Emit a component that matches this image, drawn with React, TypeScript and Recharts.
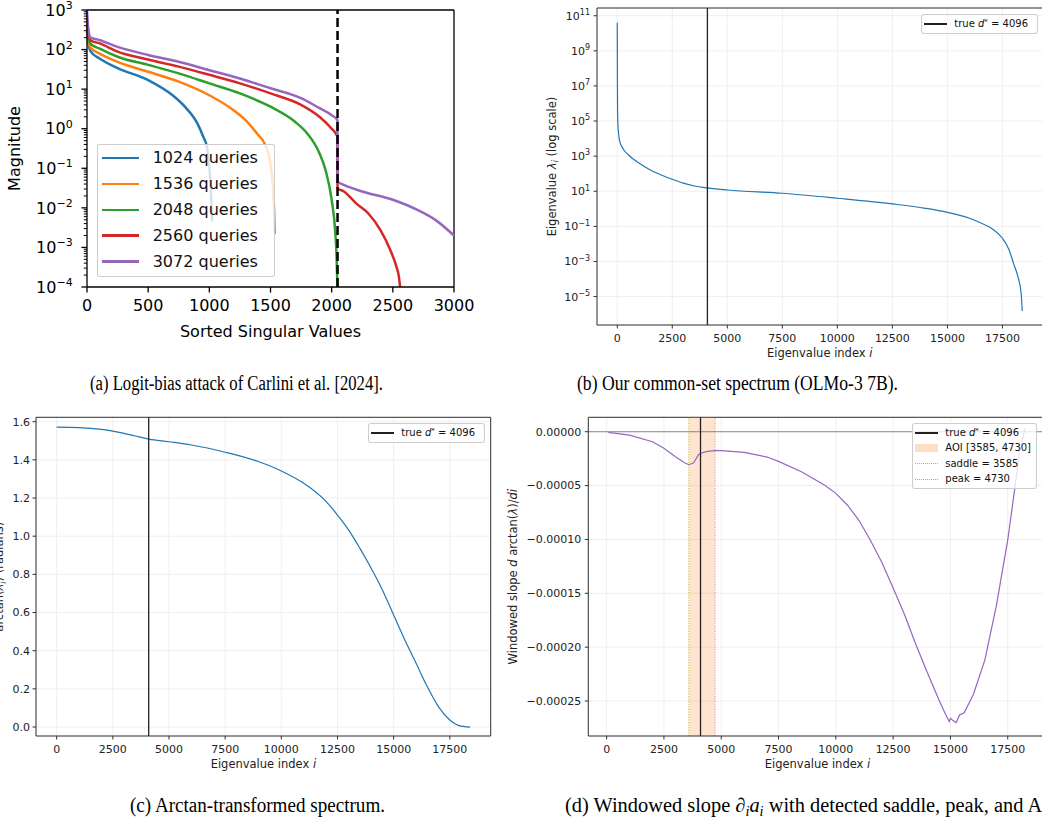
import React from "react";
import {
  CartesianGrid,
  Legend,
  Line,
  LineChart,
  ReferenceArea,
  ReferenceLine,
  XAxis,
  YAxis,
} from "recharts";

const SANS = '"DejaVu Sans", sans-serif';
const SERIF = '"Liberation Serif", "Times New Roman", serif';
const INK = "#222";
const GRID = "#ebebeb";

// ---------- (a) logit-bias attack: singular values per query budget ----------
const aXTicks = [0, 500, 1000, 1500, 2000, 2500, 3000];
const aYTicks = [1e-4, 1e-3, 1e-2, 1e-1, 1, 10, 100, 1000];
const aMinorSteps = [2, 3, 4, 5, 6, 7, 8, 9];
const aHiddenDim = 2048;

const q1024Idx = [0, 10, 30, 100, 250, 500, 700, 800, 900, 950, 980, 1000, 1010, 1018, 1023];
const q1024Val = [280, 150, 90, 60, 34, 17, 7, 3.6, 1.4, 0.63, 0.35, 0.11, 0.04, 0.012, 0.0045];

const q1536Idx = [0, 10, 30, 100, 250, 500, 750, 1000, 1200, 1300, 1400, 1450, 1500, 1520, 1530, 1535];
const q1536Val = [350, 180, 110, 80, 49, 27.5, 15.5, 7, 2.9, 1.6, 0.69, 0.43, 0.13, 0.034, 0.008, 0.0022];

const q2048Idx = [0, 10, 30, 100, 250, 500, 750, 1000, 1250, 1500, 1700, 1800, 1900, 1950, 2000, 2030, 2040, 2047];
const q2048Val = [450, 220, 140, 107, 66, 41, 25, 14, 7.8, 3.6, 1.5, 0.76, 0.24, 0.09, 0.016, 0.0023, 0.0006, 0.0001];

const q2560Idx = [0, 10, 30, 100, 250, 500, 750, 1000, 1250, 1500, 1750, 1900, 2000, 2040, 2047, 2048, 2100, 2200, 2300, 2400, 2480, 2530, 2550, 2559];
const q2560Val = [600, 280, 170, 145, 89, 56, 37, 23, 14, 7.8, 4, 2, 1.0, 0.7, 0.63, 0.031, 0.026, 0.013, 0.0072, 0.0027, 0.00085, 0.00032, 0.00018, 0.0001];

const q3072Idx = [0, 10, 30, 100, 250, 500, 750, 1000, 1250, 1500, 1750, 1900, 2000, 2047, 2048, 2100, 2250, 2500, 2700, 2850, 3000];
const q3072Val = [1000, 350, 200, 174, 117, 73, 49, 30, 18.6, 10.5, 5.9, 3.3, 2.2, 1.66, 0.046, 0.038, 0.026, 0.016, 0.0089, 0.0049, 0.002];

const aSeries = [
  { name: "1024 queries", color: "#1f77b4", idx: q1024Idx, val: q1024Val },
  { name: "1536 queries", color: "#ff7f0e", idx: q1536Idx, val: q1536Val },
  { name: "2048 queries", color: "#2ca02c", idx: q2048Idx, val: q2048Val },
  { name: "2560 queries", color: "#d62728", idx: q2560Idx, val: q2560Val },
  { name: "3072 queries", color: "#9467bd", idx: q3072Idx, val: q3072Val },
];

// ---------- (b)-(d) common-set spectrum ----------
const idxTicks = [0, 2500, 5000, 7500, 10000, 12500, 15000, 17500];
const idxDomain = [-920, 19320];
const trueDim = 4096;

const bYTicks = [1e-5, 1e-3, 1e-1, 10, 1e3, 1e5, 1e7, 1e9, 1e11];
const eigIdx = [0, 3, 8, 15, 30, 60, 100, 250, 500, 1000, 1500, 2000, 2500, 3000, 3500, 4096, 5000, 7500, 10000, 12500, 14000, 15000, 16000, 16500, 17000, 17500, 17800, 18000, 18200, 18350, 18400];
const eigVal = [4e10, 1e9, 1e7, 3e5, 6e4, 2e4, 8.3e3, 2.8e3, 1.2e3, 390, 163, 85, 48, 29, 20, 15.5, 11.8, 7.7, 4, 1.9, 1.07, 0.63, 0.29, 0.16, 0.078, 0.021, 0.0046, 0.0008, 1.4e-4, 1.55e-5, 1.5e-6];

const cYTicks = [0, 0.2, 0.4, 0.6, 0.8, 1.0, 1.2, 1.4, 1.6];
const atanIdx = [0, 1000, 2000, 2500, 3000, 3500, 4096, 5000, 6000, 7500, 9000, 10000, 11000, 12000, 12500, 13000, 13500, 14000, 14500, 15000, 15500, 16000, 16500, 17000, 17500, 18000, 18400];
const atanVal = [1.571, 1.569, 1.56, 1.551, 1.539, 1.525, 1.509, 1.495, 1.478, 1.44, 1.39, 1.342, 1.277, 1.181, 1.111, 1.032, 0.936, 0.832, 0.718, 0.587, 0.456, 0.334, 0.211, 0.106, 0.037, 0.005, 0.0];

const dYTicks = [-0.00025, -0.0002, -0.00015, -0.0001, -0.00005, 0];
const aoiLow = 3585;
const aoiHigh = 4730;
const slopeIdx = [70, 1000, 2000, 2500, 3000, 3400, 3585, 3800, 4000, 4096, 4400, 4730, 5000, 6000, 7000, 7500, 8500, 9500, 10000, 10500, 11000, 11500, 12000, 12500, 13000, 13500, 14000, 14500, 14800, 14950, 15000, 15100, 15250, 15400, 15600, 16000, 16500, 17000, 17500, 17800, 18000, 18250];
const slopeVal = [-6e-7, -3.1e-6, -9.3e-6, -1.54e-5, -2.32e-5, -2.88e-5, -3.06e-5, -2.88e-5, -2.16e-5, -2.0e-5, -1.82e-5, -1.76e-5, -1.76e-5, -1.91e-5, -2.35e-5, -2.75e-5, -3.71e-5, -4.95e-5, -5.72e-5, -6.8e-5, -8.2e-5, -1.005e-4, -1.21e-4, -1.45e-4, -1.7e-4, -1.98e-4, -2.24e-4, -2.49e-4, -2.63e-4, -2.69e-4, -2.66e-4, -2.68e-4, -2.7e-4, -2.63e-4, -2.61e-4, -2.44e-4, -2.12e-4, -1.62e-4, -1.005e-4, -5.4e-5, -2.0e-5, 3e-6];

const pts = (xs: number[], ys: number[]) => xs.map((x, i) => ({ x, y: ys[i] }));

// ---------- shared pieces ----------
function PowTick(props: any) {
  const { x, y, payload, fs, sup, color, axisX, majorLen, minorLen } = props;
  const e = Math.log10(payload.value);
  const ex = Math.round(e);
  const major = Math.abs(e - ex) < 1e-6;
  return (
    <g>
      {axisX != null && (
        <line
          x1={axisX - (major ? majorLen : minorLen)}
          x2={axisX}
          y1={y}
          y2={y}
          stroke={color}
          strokeWidth={major ? 1.3 : 1}
        />
      )}
      {major && (
        <text x={x} y={y + fs * 0.36} textAnchor="end" fontSize={fs} fill={color} fontFamily={SANS}>
          10
          <tspan fontSize={sup} dy={-fs * 0.42}>
            {ex < 0 ? `\u2212${-ex}` : `${ex}`}
          </tspan>
        </text>
      )}
    </g>
  );
}

type Entry = { label: React.ReactNode; color: string; kind: "line" | "dot" | "patch"; lw?: number; alpha?: number };

function LegendBox(p: {
  entries: Entry[];
  w: number;
  h: number;
  rowTop: number;
  rowGap: number;
  sx: number;
  sw: number;
  tx: number;
  fs: number;
}) {
  return (
    <div
      style={{
        position: "relative",
        width: p.w,
        height: p.h,
        boxSizing: "border-box",
        border: "1px solid rgba(200,200,200,0.9)",
        borderRadius: 3,
        background: "rgba(255,255,255,0.8)",
        fontFamily: SANS,
        fontSize: p.fs,
        color: "#111",
      }}
    >
      {p.entries.map((e, k) => {
        const cy = p.rowTop + k * p.rowGap;
        const lw = e.lw ?? 1.5;
        let sample: React.CSSProperties;
        if (e.kind === "line") {
          sample = { top: cy - lw / 2, height: lw, background: e.color };
        } else if (e.kind === "dot") {
          sample = { top: cy - lw / 2, height: 0, borderTop: `${lw}px dotted ${e.color}` };
        } else {
          sample = { top: cy - 4, height: 8, background: e.color };
        }
        return (
          <React.Fragment key={k}>
            <div style={{ position: "absolute", left: p.sx, width: p.sw, opacity: e.alpha ?? 1, ...sample }} />
            <div
              style={{
                position: "absolute",
                left: p.tx,
                top: cy,
                transform: "translateY(-50%)",
                whiteSpace: "nowrap",
                lineHeight: 1,
              }}
            >
              {e.label}
            </div>
          </React.Fragment>
        );
      })}
    </div>
  );
}

const trueLabel = (
  <>
    true <i>d</i>
    <span style={{ fontSize: "0.7em", verticalAlign: "0.5em" }}>*</span> = 4096
  </>
);

// top and right spines: a grid whose only lines sit on the plot area's top and right edges
function spines(color: string, w: number) {
  return (
    <CartesianGrid
      stroke={color}
      strokeWidth={w}
      fill="none"
      horizontalCoordinatesGenerator={(p: any) => [p.offset.top]}
      verticalCoordinatesGenerator={(p: any) => [p.offset.left + p.offset.width]}
    />
  );
}

function PanelA() {
  const minor = aYTicks.slice(0, -1).flatMap((d) => aMinorSteps.map((m) => d * m));
  const yTicks = [...aYTicks, ...minor].sort((p, q) => p - q);
  return (
    <LineChart width={500} height={345} margin={{ top: 10, right: 46, bottom: 0, left: 0 }}>
      <XAxis
        dataKey="x"
        type="number"
        domain={[0, 3000]}
        ticks={aXTicks}
        interval={0}
        height={58}
        tickSize={5.6}
        tickMargin={7}
        tick={{ fontSize: 16, fill: "#000", fontFamily: SANS }}
        axisLine={{ stroke: "#000", strokeWidth: 1.3 }}
        tickLine={{ stroke: "#000", strokeWidth: 1.3 }}
      />
      <YAxis
        type="number"
        scale="log"
        domain={[1e-4, 1e3]}
        ticks={yTicks}
        interval={0}
        width={87}
        tickSize={5.6}
        tickMargin={8.7}
        tickLine={false}
        axisLine={{ stroke: "#000", strokeWidth: 1.3 }}
        tick={<PowTick fs={16} sup={11} color="#000" axisX={87} majorLen={5.6} minorLen={3.2} />}
      />
      {spines("#000", 1.3)}
      {aSeries.map((s) => (
        <Line
          key={s.name}
          name={s.name}
          data={pts(s.idx, s.val)}
          dataKey="y"
          type="monotoneX"
          stroke={s.color}
          strokeWidth={2.5}
          dot={false}
          isAnimationActive={false}
        />
      ))}
      <ReferenceLine x={aHiddenDim} stroke="#000" strokeWidth={2.5} strokeDasharray="9 4" />
      <Legend
        layout="vertical"
        align="center"
        verticalAlign="middle"
        wrapperStyle={{ left: 96.7, top: 144, width: 178.6, height: 133.3 }}
        content={() => (
          <LegendBox
            entries={aSeries.map((s) => ({ label: s.name, color: s.color, kind: "line" as const, lw: 2.5 }))}
            w={178.6}
            h={133.3}
            rowTop={13}
            rowGap={25.9}
            sx={4.3}
            sw={37}
            tx={55}
            fs={16}
          />
        )}
      />
    </LineChart>
  );
}

const idxAxis = (xH: number) => ({
  dataKey: "x",
  type: "number" as const,
  domain: idxDomain,
  ticks: idxTicks,
  interval: 0 as const,
  height: xH,
  tickSize: 3.5,
  tickMargin: 5.5,
  tick: { fontSize: 11, fill: INK, fontFamily: SANS },
  axisLine: { stroke: "#333", strokeWidth: 1 },
  tickLine: { stroke: "#333", strokeWidth: 1 },
});

function SmallLegend(p: { entries: Entry[]; left: number; top: number; w: number; h: number; rowGap?: number }) {
  return (
    <Legend
      layout="vertical"
      align="center"
      verticalAlign="middle"
      wrapperStyle={{ left: p.left, top: p.top, width: p.w, height: p.h }}
      content={() => (
        <LegendBox entries={p.entries} w={p.w} h={p.h} rowTop={9.2} rowGap={p.rowGap ?? 15.4} sx={2.6} sw={22.3} tx={32.6} fs={10} />
      )}
    />
  );
}

function PanelB() {
  const yDom = [Math.pow(10, -6.62), Math.pow(10, 11.44)];
  return (
    <LineChart width={530} height={370} margin={{ top: 8, right: 17.5, bottom: 0, left: 0 }}>
      <CartesianGrid stroke={GRID} strokeWidth={0.8} />
      <XAxis {...idxAxis(45)} />
      <YAxis
        type="number"
        scale="log"
        domain={yDom}
        ticks={bYTicks}
        interval={0}
        width={67}
        tickSize={3.5}
        tickMargin={3.5}
        axisLine={{ stroke: "#333", strokeWidth: 1 }}
        tickLine={{ stroke: "#333", strokeWidth: 1 }}
        tick={<PowTick fs={11} sup={8} color={INK} />}
      />
      {spines("#333", 1)}
      <Line data={pts(eigIdx, eigVal)} dataKey="y" type="monotoneX" stroke="#1f77b4" strokeWidth={1.2} dot={false} isAnimationActive={false} />
      <ReferenceLine x={trueDim} stroke="#222" strokeWidth={1.3} />
      {SmallLegend({ entries: [{ label: trueLabel, color: "#222", kind: "line", lw: 1.5 }], left: 390.7, top: 14, w: 117.6, h: 20 })}
    </LineChart>
  );
}

function PanelC() {
  const yDom = [-0.047, 1.623];
  return (
    <LineChart width={520} height={380} margin={{ top: 17.3, right: 29.3, bottom: 0, left: 0 }}>
      <CartesianGrid stroke={GRID} strokeWidth={0.8} />
      <XAxis {...idxAxis(44)} />
      <YAxis
        type="number"
        domain={yDom}
        ticks={cYTicks}
        interval={0}
        width={36}
        tickSize={3.5}
        tickMargin={2.5}
        tickFormatter={(v: number) => v.toFixed(1)}
        tick={{ fontSize: 11, fill: INK, fontFamily: SANS }}
        axisLine={{ stroke: "#333", strokeWidth: 1 }}
        tickLine={{ stroke: "#333", strokeWidth: 1 }}
      />
      {spines("#333", 1)}
      <Line data={pts(atanIdx, atanVal)} dataKey="y" type="monotoneX" stroke="#1f77b4" strokeWidth={1.2} dot={false} isAnimationActive={false} />
      <ReferenceLine x={trueDim} stroke="#222" strokeWidth={1.3} />
      {SmallLegend({ entries: [{ label: trueLabel, color: "#222", kind: "line", lw: 1.5 }], left: 367.7, top: 22.7, w: 117.6, h: 20 })}
    </LineChart>
  );
}

function PanelD() {
  const yDom = [-0.0002825, 0.0000134];
  const xDom = [-800, 19200];
  return (
    <LineChart width={540} height={380} margin={{ top: 17.3, right: 13.3, bottom: 0, left: 0 }}>
      <CartesianGrid stroke={GRID} strokeWidth={0.8} />
      <XAxis {...idxAxis(44)} domain={xDom} />
      <YAxis
        type="number"
        domain={yDom}
        ticks={dYTicks}
        interval={0}
        width={68.3}
        tickSize={3.5}
        tickMargin={3.5}
        tickFormatter={(v: number) => (v === 0 ? "0.00000" : `\u2212${Math.abs(v).toFixed(5)}`)}
        tick={{ fontSize: 11, fill: INK, fontFamily: SANS }}
        axisLine={{ stroke: "#333", strokeWidth: 1 }}
        tickLine={{ stroke: "#333", strokeWidth: 1 }}
      />
      {spines("#333", 1)}
      <ReferenceArea x1={aoiLow} x2={aoiHigh} y1={yDom[0]} y2={yDom[1]} fill="#ff7f0e" fillOpacity={0.2} stroke="none" />
      <ReferenceLine y={0} stroke="#8a8a8a" strokeWidth={1} />
      <Line data={pts(slopeIdx, slopeVal)} dataKey="y" type="linear" stroke="#9467bd" strokeWidth={1.2} dot={false} isAnimationActive={false} />
      <ReferenceLine x={aoiLow} stroke="#bcbd22" strokeWidth={1} strokeDasharray="1 1.6" />
      <ReferenceLine x={aoiHigh} stroke="#8c564b" strokeOpacity={0.6} strokeWidth={1} strokeDasharray="1 1.6" />
      <ReferenceLine x={trueDim} stroke="#222" strokeWidth={1.3} />
      {SmallLegend({
        entries: [
          { label: trueLabel, color: "#222", kind: "line", lw: 1.5 },
          { label: `AOI [${aoiLow}, ${aoiHigh}]`, color: "rgba(255,127,14,0.25)", kind: "patch" },
          { label: `saddle = ${aoiLow}`, color: "#bcbd22", kind: "dot", lw: 1 },
          { label: `peak = ${aoiHigh}`, color: "#8c564b", kind: "dot", lw: 1, alpha: 0.6 },
        ],
        left: 391.7,
        top: 22.7,
        w: 125,
        h: 66.3,
        rowGap: 15.4,
      })}
    </LineChart>
  );
}

function Titles() {
  const sub = { fontSize: 8, fontStyle: "italic" as const };
  return (
    <svg width={1042} height={824} style={{ position: "absolute", left: 0, top: 0, pointerEvents: "none" }}>
      {/* (a) */}
      <text transform="translate(19.7,148.5) rotate(-90)" textAnchor="middle" fontSize={16} fontFamily={SANS} fill="#000">
        Magnitude
      </text>
      <text x={270.5} y={336.5} textAnchor="middle" fontSize={16} fontFamily={SANS} fill="#000">
        Sorted Singular Values
      </text>
      {/* (b) */}
      <text transform="translate(555.5,166.5) rotate(-90)" textAnchor="middle" fontSize={11.5} fontFamily={SANS} fill={INK}>
        Eigenvalue <tspan fontStyle="italic">λ</tspan>
        <tspan {...sub} dy={2.5}>i</tspan>
        <tspan dy={-2.5}> (log scale)</tspan>
      </text>
      <text x={819.7} y={356.5} textAnchor="middle" fontSize={11.5} fontFamily={SANS} fill={INK}>
        Eigenvalue index <tspan fontStyle="italic">i</tspan>
      </text>
      {/* (c): title sits partly outside the page, as in the source figure */}
      <text transform="translate(3.4,576.7) rotate(-90)" textAnchor="middle" fontSize={11.5} fontFamily={SANS} fill={INK}>
        arctan(<tspan fontStyle="italic">λ</tspan>
        <tspan {...sub} dy={2.5}>i</tspan>
        <tspan dy={-2.5}>) (radians)</tspan>
      </text>
      <text x={263.4} y={767.7} textAnchor="middle" fontSize={11.5} fontFamily={SANS} fill={INK}>
        Eigenvalue index <tspan fontStyle="italic">i</tspan>
      </text>
      {/* (d) */}
      <text transform="translate(516.7,576.7) rotate(-90)" textAnchor="middle" fontSize={11.5} fontFamily={SANS} fill={INK}>
        Windowed slope <tspan fontStyle="italic">d</tspan> arctan(<tspan fontStyle="italic">λ</tspan>)/<tspan fontStyle="italic">di</tspan>
      </text>
      <text x={817.5} y={767.7} textAnchor="middle" fontSize={11.5} fontFamily={SANS} fill={INK}>
        Eigenvalue index <tspan fontStyle="italic">i</tspan>
      </text>
      {/* captions */}
      <text x={90} y={390} fontSize={20} fontFamily={SERIF} fill="#000" textLength={293} lengthAdjust="spacingAndGlyphs">
        (a) Logit-bias attack of Carlini et al. [2024].
      </text>
      <text x={577} y={390} fontSize={20} fontFamily={SERIF} fill="#000" textLength={321} lengthAdjust="spacingAndGlyphs">
        (b) Our common-set spectrum (OLMo-3 7B).
      </text>
      <text x={130} y={812} fontSize={20} fontFamily={SERIF} fill="#000" textLength={255} lengthAdjust="spacingAndGlyphs">
        (c) Arctan-transformed spectrum.
      </text>
      <text transform="translate(565,812) scale(1.02,1)" fontSize={20} fontFamily={SERIF} fill="#000">
        (d) Windowed slope ∂<tspan fontSize={14} dy={4} fontStyle="italic">i</tspan>
        <tspan dy={-4} fontStyle="italic">a</tspan>
        <tspan fontSize={14} dy={4} fontStyle="italic">i</tspan>
        <tspan dy={-4}> with detected saddle, peak, and AOI.</tspan>
      </text>
    </svg>
  );
}

export default function App() {
  return (
    <div
      style={{
        position: "absolute",
        left: 0,
        top: 0,
        width: 1042,
        height: 824,
        overflow: "hidden",
        background: "#fff",
        fontFamily: SANS,
      }}
    >
      <div style={{ position: "absolute", left: 0, top: 0 }}>
        <PanelA />
      </div>
      <div style={{ position: "absolute", left: 530, top: 0 }}>
        <PanelB />
      </div>
      <div style={{ position: "absolute", left: 0, top: 400 }}>
        <PanelC />
      </div>
      <div style={{ position: "absolute", left: 520, top: 400 }}>
        <PanelD />
      </div>
      <Titles />
    </div>
  );
}
